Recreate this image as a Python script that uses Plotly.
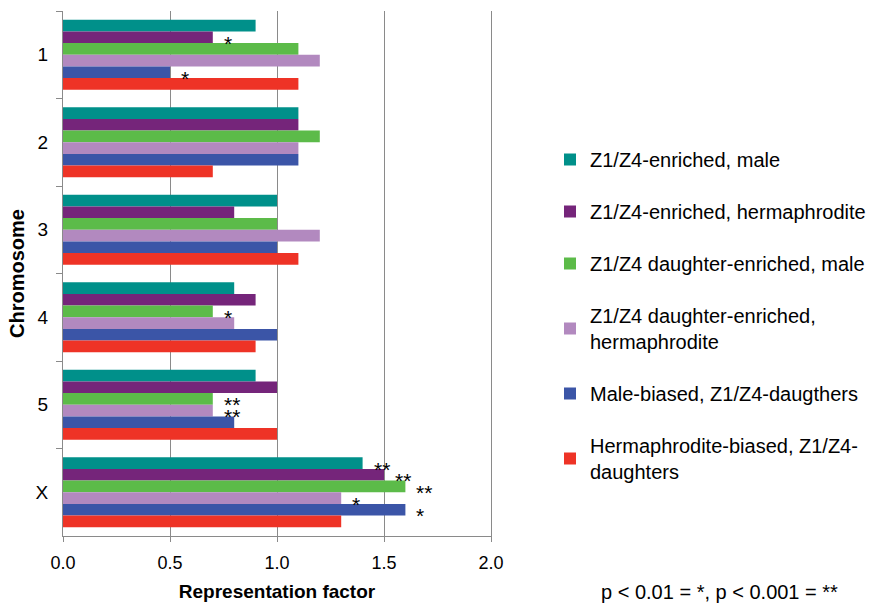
import plotly.graph_objects as go

chromosomes = ["1", "2", "3", "4", "5", "X"]

series_names = [
    "Z1/Z4-enriched, male",
    "Z1/Z4-enriched, hermaphrodite",
    "Z1/Z4 daughter-enriched, male",
    "Z1/Z4 daughter-enriched,<br>hermaphrodite",
    "Male-biased, Z1/Z4-daugthers",
    "Hermaphrodite-biased, Z1/Z4-<br>daughters",
]
series_colors = ["#00908a", "#75257a", "#5cbb49", "#b289bf", "#3b55a7", "#ee3326"]

z1z4_male = [0.9, 1.1, 1.0, 0.8, 0.9, 1.4]
z1z4_herm = [0.7, 1.1, 0.8, 0.9, 1.0, 1.5]
daughter_male = [1.1, 1.2, 1.0, 0.7, 0.7, 1.6]
daughter_herm = [1.2, 1.1, 1.2, 0.8, 0.7, 1.3]
male_biased = [0.5, 1.1, 1.0, 1.0, 0.8, 1.6]
herm_biased = [1.1, 0.7, 1.1, 0.9, 1.0, 1.3]
series_values = [z1z4_male, z1z4_herm, daughter_male, daughter_herm, male_biased, herm_biased]

# significance marks: (chromosome, series index, label)
significance = [
    ("1", 1, "*"), ("1", 4, "*"),
    ("4", 2, "*"),
    ("5", 2, "**"), ("5", 3, "**"),
    ("X", 0, "**"), ("X", 1, "**"), ("X", 2, "**"), ("X", 3, "*"), ("X", 4, "*"),
]

FONT = "Liberation Sans, Arial, sans-serif"
BARGAP = 0.2
n_series = len(series_values)
W, H = 873, 604
ML, MR, MT, MB = 63, 382, 11, 68
PW, PH = W - ML - MR, H - MT - MB
GRID = "#8a8a8a"

fig = go.Figure()
for i, (name, color, vals) in enumerate(zip(series_names, series_colors, series_values)):
    fig.add_trace(go.Bar(
        y=chromosomes, x=vals, orientation="h", name=name,
        marker=dict(color=color, line=dict(width=0)),
        legendgroup=f"g{i}",
    ))

bar_w = (1 - BARGAP) / n_series
annotations = []
for chrom, si, label in significance:
    ci = chromosomes.index(chrom)
    yoff = -(1 - BARGAP) / 2 + bar_w * (si + 0.5)
    annotations.append(dict(
        x=series_values[si][ci], y=ci + yoff, xref="x", yref="y",
        text=label, showarrow=False, xanchor="left", yanchor="middle",
        xshift=9, yshift=-6, font=dict(size=21, color="black", family=FONT),
    ))

annotations.append(dict(
    x=(719 - ML) / PW, y=(H - MB - 592) / PH, xref="paper", yref="paper",
    text="p < 0.01 = *, p < 0.001 = **", showarrow=False,
    xanchor="center", yanchor="middle", font=dict(size=20, color="black", family=FONT),
))

fig.update_layout(
    width=W, height=H,
    margin=dict(l=ML, r=MR, t=MT, b=MB),
    paper_bgcolor="white", plot_bgcolor="white",
    barmode="group", bargap=BARGAP, bargroupgap=0,
    font=dict(family=FONT, color="black"),
    showlegend=True,
    legend=dict(
        xref="container", yref="container", x=550 / W, y=(H - 140) / H,
        xanchor="left", yanchor="top", traceorder="grouped", tracegroupgap=23,
        font=dict(size=20, family=FONT, color="black"), bgcolor="rgba(0,0,0,0)",
    ),
    annotations=annotations,
    xaxis=dict(
        range=[0, 2], dtick=0.5, tick0=0, tickformat=".1f",
        showgrid=True, gridcolor=GRID, gridwidth=1,
        showline=True, linecolor=GRID, linewidth=1,
        ticks="outside", ticklen=5, tickcolor=GRID,
        tickfont=dict(size=18), ticklabelstandoff=5,
        zeroline=False, automargin=False,
        title=dict(text="<b>Representation factor</b>", font=dict(size=19), standoff=13),
    ),
    yaxis=dict(
        type="category", categoryorder="array", categoryarray=chromosomes,
        autorange="reversed", showgrid=False,
        showline=True, linecolor=GRID, linewidth=1, mirror=True,
        ticks="outside", ticklen=6, tickcolor=GRID, tickson="boundaries",
        tickfont=dict(size=19), ticklabelstandoff=10, automargin=False,
        title=dict(text="<b>Chromosome</b>", font=dict(size=20), standoff=5),
    ),
)

try:
    fig.update_layout(legend_maxheight=1.0)
except ValueError:
    pass

fig.write_html("out.html", config={"displayModeBar": False},
               post_script="document.body.style.margin='0';")
